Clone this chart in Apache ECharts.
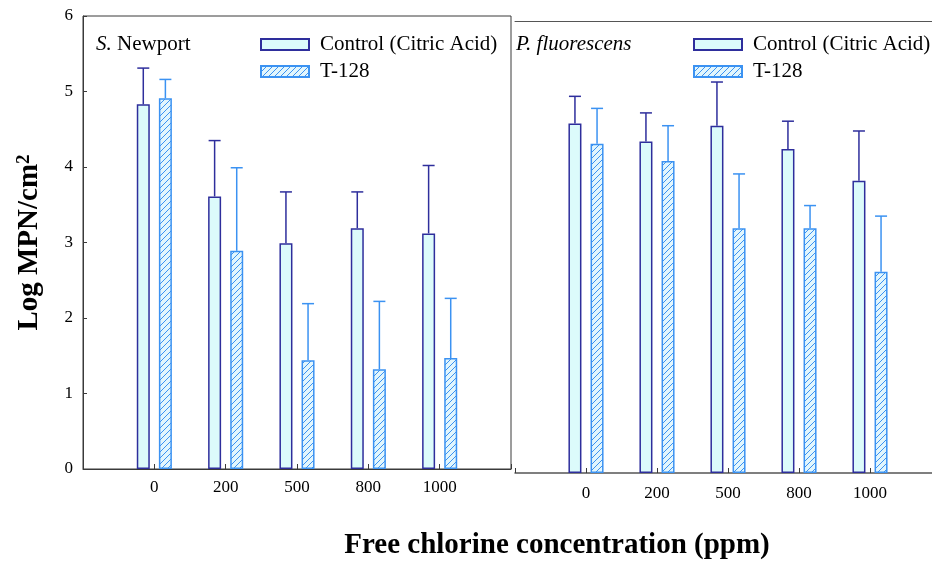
<!DOCTYPE html>
<html>
<head>
<meta charset="utf-8">
<script src="https://cdn.jsdelivr.net/npm/echarts@6/dist/echarts.min.js"></script>
<style>
  html, body { margin: 0; padding: 0; background: #ffffff; overflow: hidden; width: 932px; height: 561px; }
  /* the right panel runs past the page edge, so the canvas is a little wider than the page */
  #chart { width: 944px; height: 561px; }
</style>
</head>
<body>
<div id="chart"></div>
<script>
// Free chlorine doses (ppm)
const doses = ['0', '200', '500', '800', '1000'];
// Log MPN/cm2 axis ticks
const yTicks = [0, 1, 2, 3, 4, 5, 6];

// S. Newport: mean and standard deviation
const newportControl   = [4.83, 3.61, 2.99, 3.19, 3.12];
const newportControlSD = [0.48, 0.74, 0.68, 0.48, 0.90];
const newportT128      = [4.91, 2.89, 1.44, 1.32, 1.47];
const newportT128SD    = [0.25, 1.10, 0.75, 0.90, 0.79];

// P. fluorescens: mean and standard deviation
const fluorControl   = [4.64, 4.40, 4.61, 4.30, 3.88];
const fluorControlSD = [0.36, 0.38, 0.58, 0.37, 0.66];
const fluorT128      = [4.37, 4.14, 3.25, 3.25, 2.67];
const fluorT128SD    = [0.47, 0.47, 0.72, 0.30, 0.74];

const SERIF = "'Liberation Serif', 'Times New Roman', serif";
const CONTROL_FILL = '#dcfbfb';
const CONTROL_LINE = '#2e2e9c';
const T128_LINE = '#3b92f2';

// Diagonal hatch fill for the T-128 bars
function makeHatch() {
  const s = 6;
  const c = document.createElement('canvas');
  c.width = s; c.height = s;
  const g = c.getContext('2d');
  g.fillStyle = '#e2f6fd';
  g.fillRect(0, 0, s, s);
  g.strokeStyle = T128_LINE;
  g.lineWidth = 1;
  g.beginPath();
  g.moveTo(0, s); g.lineTo(s, 0);
  g.moveTo(-1, 1); g.lineTo(1, -1);
  g.moveTo(s - 1, s + 1); g.lineTo(s + 1, s - 1);
  g.stroke();
  return c;
}
const hatch = { image: makeHatch(), repeat: 'repeat' };

// Axis has one empty slot on each side of the doses
const axisCats = [''].concat(doses, ['']);
const pad = arr => ['-'].concat(arr, ['-']);

const BAR_W = 13;
const BAR_GAP = 0.7;
const OFFSET = (BAR_W + BAR_W * BAR_GAP) / 2;

function errorSeries(means, sds, color, side, axisIdx) {
  return {
    type: 'custom',
    xAxisIndex: axisIdx,
    yAxisIndex: axisIdx,
    z: 5,
    silent: true,
    clip: false,
    data: means.map((m, i) => [i + 1, m, sds[i]]),
    renderItem: function (params, api) {
      const cat = api.value(0);
      const m = api.value(1);
      const sd = api.value(2);
      const p0 = api.coord([cat, m]);
      const p1 = api.coord([cat, m + sd]);
      const x = p0[0] + side * OFFSET;
      const style = { stroke: color, lineWidth: 1.5 };
      return {
        type: 'group',
        children: [
          { type: 'line', shape: { x1: x, y1: p0[1], x2: x, y2: p1[1] }, style: style },
          { type: 'line', shape: { x1: x - 6, y1: p1[1], x2: x + 6, y2: p1[1] }, style: style }
        ]
      };
    }
  };
}

function barSeries(name, values, axisIdx, isControl) {
  return {
    name: name,
    type: 'bar',
    xAxisIndex: axisIdx,
    yAxisIndex: axisIdx,
    barWidth: BAR_W,
    barGap: (BAR_GAP * 100) + '%',
    itemStyle: isControl
      ? { color: CONTROL_FILL, borderColor: CONTROL_LINE, borderWidth: 1.5 }
      : { color: hatch, borderColor: T128_LINE, borderWidth: 1.5 },
    data: pad(values)
  };
}

const labelStyle = { color: '#000', fontFamily: SERIF, fontSize: 17 };

function legendAt(left) {
  return {
    orient: 'vertical',
    left: left,
    top: 34,
    padding: 0,
    itemGap: 6,
    itemWidth: 48,
    itemHeight: 11,
    icon: 'rect',
    selectedMode: false,
    textStyle: { color: '#000', fontFamily: SERIF, fontSize: 21, padding: [0, 0, 0, 6] },
    data: ['Control (Citric Acid)', 'T-128']
  };
}

const chart = echarts.init(document.getElementById('chart'), null, { renderer: 'canvas' });
chart.setOption({
  animation: false,
  backgroundColor: '#ffffff',
  grid: [
    { left: 83, top: 16, width: 428, height: 453, show: true, borderColor: '#3a3a3a', borderWidth: 1, backgroundColor: 'transparent' },
    { left: 515, top: 21, width: 428, height: 452 }
  ],
  legend: [legendAt(260), legendAt(693)],
  xAxis: [
    {
      gridIndex: 0, type: 'category', data: axisCats, boundaryGap: false,
      axisLine: { lineStyle: { color: '#3a3a3a', width: 1 } },
      axisTick: { inside: true, length: 5, interval: 0, lineStyle: { color: '#3a3a3a' } },
      axisLabel: Object.assign({ interval: 0, margin: 10 }, labelStyle),
      splitLine: { show: false }
    },
    {
      gridIndex: 1, type: 'category', data: axisCats, boundaryGap: false,
      axisLine: { lineStyle: { color: '#555', width: 1.5 } },
      axisTick: { inside: true, length: 5, interval: 0, lineStyle: { color: '#3a3a3a' } },
      axisLabel: Object.assign({ interval: 0, margin: 12 }, labelStyle),
      splitLine: { show: false }
    },
    {
      gridIndex: 1, type: 'category', data: axisCats, boundaryGap: false, position: 'top',
      axisLine: { lineStyle: { color: '#555', width: 1 } },
      axisTick: { show: false }, axisLabel: { show: false }, splitLine: { show: false }
    }
  ],
  yAxis: [
    {
      gridIndex: 0, type: 'value',
      min: yTicks[0], max: yTicks[yTicks.length - 1], interval: yTicks[1] - yTicks[0],
      axisLine: { show: true, lineStyle: { color: '#3a3a3a' } },
      axisTick: { show: true, inside: true, length: 4, lineStyle: { color: '#3a3a3a' } },
      axisLabel: Object.assign({ margin: 10 }, labelStyle),
      splitLine: { show: false },
      name: '{b|Log MPN/cm}{s|2}',
      nameLocation: 'middle',
      nameRotate: 90,
      nameGap: 39,
      nameTextStyle: {
        rich: {
          b: { fontFamily: SERIF, fontSize: 29, fontWeight: 'bold', color: '#000' },
          s: { fontFamily: SERIF, fontSize: 19, fontWeight: 'bold', color: '#000', verticalAlign: 'top' }
        }
      }
    },
    {
      gridIndex: 1, type: 'value',
      min: yTicks[0], max: yTicks[yTicks.length - 1], interval: yTicks[1] - yTicks[0],
      axisLine: { show: false }, axisTick: { show: false }, axisLabel: { show: false },
      splitLine: { show: false }
    }
  ],
  graphic: [
    {
      type: 'text', left: 96, top: 34,
      style: {
        text: '{i|S.} Newport',
        font: '21px ' + SERIF, fill: '#000',
        rich: { i: { fontStyle: 'italic', fontFamily: SERIF, fontSize: 21, fill: '#000' } }
      }
    },
    {
      type: 'text', left: 516, top: 34,
      style: { text: 'P. fluorescens', font: 'italic 21px ' + SERIF, fill: '#000' }
    },
    {
      type: 'text', x: 557, y: 546,
      style: {
        text: 'Free chlorine concentration (ppm)',
        font: 'bold 29px ' + SERIF, fill: '#000',
        align: 'center', verticalAlign: 'middle'
      }
    }
  ],
  series: [
    barSeries('Control (Citric Acid)', newportControl, 0, true),
    barSeries('T-128', newportT128, 0, false),
    barSeries('Control (Citric Acid)', fluorControl, 1, true),
    barSeries('T-128', fluorT128, 1, false),
    errorSeries(newportControl, newportControlSD, CONTROL_LINE, -1, 0),
    errorSeries(newportT128, newportT128SD, T128_LINE, 1, 0),
    errorSeries(fluorControl, fluorControlSD, CONTROL_LINE, -1, 1),
    errorSeries(fluorT128, fluorT128SD, T128_LINE, 1, 1)
  ]
});
</script>
</body>
</html>
